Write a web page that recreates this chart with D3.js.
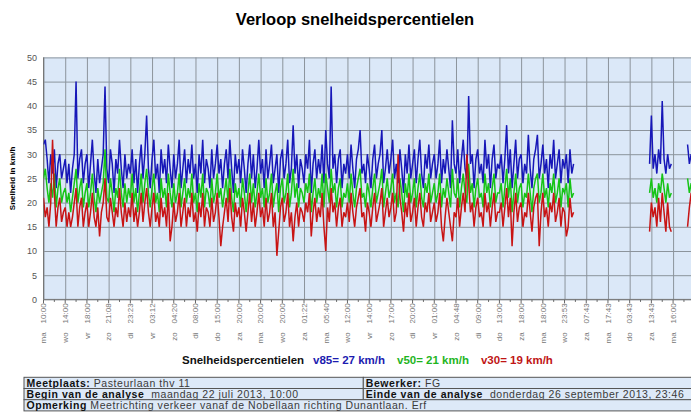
<!DOCTYPE html>
<html>
<head>
<meta charset="utf-8">
<script src="https://cdn.jsdelivr.net/npm/d3@7"></script>
<style>
  body { margin: 0; background: #fff; font-family: 'Liberation Sans', Arial, sans-serif; }
  .grid line { stroke: #8c949c; stroke-width: 1; }
  .grid path { display: none; }
  .yAxis text { fill: #555; font-size: 9px; }
  .tickText { fill: #777; font-size: 8px; }
  .seriesLine { fill: none; stroke-width: 1.5; stroke-linejoin: miter; }
  .tableCell { fill: #dde9f8; stroke: #555; stroke-width: 1; }
  .tableText { font-size: 10.5px; letter-spacing: 0.55px; fill: #3a3a3a; }
</style>
</head>
<body>
<div id="chartContainer"></div>
<script>
// x tick labels, one per grid line (every 12 samples)
const tickLabels = ['ma 10:00', 'wo 14:00', 'vr 18:00', 'zo 21:08', 'di 23:23', 'vr 03:12', 'zo 04:20',
  'di 08:00', 'do 15:00', 'za 20:00', 'ma 20:00', 'wo 20:00', 'za 01:22', 'ma 05:40', 'wo 12:00',
  'vr 14:00', 'zo 17:00', 'di 20:00', 'vr 01:00', 'zo 04:48', 'di 09:00', 'do 13:00', 'za 18:00',
  'ma 18:00', 'wo 23:53', 'za 07:43', 'ma 17:43', 'do 03:43', 'za 13:43', 'ma 16:00'];
const samplesPerTick = 12;
const tickIntervals = 30;
const yTicks = [0, 5, 10, 15, 20, 25, 30, 35, 40, 45, 50];

// measured blocks (sample index where each block starts)
const segmentStarts = [0, 335, 356];

const v85 = [
  [32,33,29,24,30,26,31,23,28,30,25,27, 29,24,28,22,27,30,45,25,29,31,24,28,
   30,23,28,33,26,22,29,24,27,30,44,27, 24,31,28,22,29,26,33,27,23,30,25,28,
   26,31,24,29,22,28,32,25,30,38,27,23, 29,33,25,28,22,31,26,29,24,32,27,23,
   30,25,28,33,23,27,31,24,29,26,32,25, 28,22,30,26,33,24,29,27,23,31,25,28,
   32,26,29,23,28,31,25,33,27,22,30,26, 29,24,31,27,22,28,32,25,30,23,27,33,
   26,29,23,31,25,28,32,24,27,30,22,29, 31,25,28,33,24,27,36,26,30,23,29,27,
   24,30,27,33,22,28,31,25,29,26,32,24, 35,28,25,44,27,30,24,29,31,23,28,26,
   30,25,32,27,23,29,31,35,26,28,24,30, 27,23,29,32,25,28,30,35,24,27,31,26,
   29,33,25,28,24,31,27,22,30,26,32,25, 28,31,24,29,33,26,23,30,27,32,25,28,
   30,25,28,33,24,29,26,31,27,23,37,28, 26,31,24,29,33,27,25,42,28,30,23,29,
   31,26,28,24,33,27,30,23,29,32,25,28, 27,30,24,29,36,26,31,23,28,33,25,29,
   30,24,28,26,34,27,23,29,31,34,25,28, 32,26,29,23,30,27,33,25,28,31,24,29,
   27,30,24,31,26,28],
  [28,38,27,30,26,31,28,41,29,26,30,27,28],
  [32,28,30,27,29]
];
const v50 = [
  [25,27,23,20,24,21,26,19,23,25,20,22, 23,20,22,18,21,24,27,20,23,25,19,22,
   24,19,22,26,21,18,23,20,22,24,31,21, 20,25,22,18,23,21,27,22,19,24,20,23,
   21,26,20,23,18,22,26,20,24,27,22,19, 23,26,20,22,18,25,21,23,19,26,22,19,
   24,20,22,26,19,22,25,20,23,21,26,20, 22,18,24,21,26,19,23,22,19,25,20,22,
   26,21,23,19,22,25,20,27,21,18,24,21, 23,19,25,22,18,22,26,20,24,19,22,26,
   21,23,19,25,20,22,26,19,22,24,18,23, 25,20,22,26,19,22,27,21,24,19,23,22,
   20,24,22,26,18,22,25,20,23,21,26,19, 26,23,20,27,22,24,19,23,25,19,22,21,
   24,20,26,22,19,23,25,27,21,22,19,24, 22,19,23,26,20,22,24,27,19,22,25,21,
   23,26,20,22,19,25,22,18,24,21,26,20, 22,25,19,23,26,21,19,24,22,26,20,22,
   24,20,22,26,19,23,21,25,22,19,27,22, 21,25,19,23,26,22,20,28,22,24,19,23,
   25,21,22,19,26,22,24,19,23,26,20,22, 22,24,19,23,27,21,25,18,22,26,20,23,
   24,19,22,21,26,22,18,23,25,26,20,22, 26,21,23,19,24,22,26,20,22,25,19,23,
   22,24,19,25,21,22],
  [22,25,21,23,20,24,22,26,23,20,24,21,22],
  [25,22,24,21,23]
];
const v30 = [
  [21,17,19,15,20,33,22,15,19,21,16,18, 19,15,18,15,17,20,23,15,19,21,15,18,
   20,15,18,22,17,15,19,13,18,20,25,17, 16,21,18,15,19,17,23,18,15,20,16,19,
   17,22,16,19,15,18,22,16,20,23,18,15, 19,22,16,18,15,21,17,19,15,22,12,15,
   20,16,18,22,15,18,21,15,19,17,22,16, 18,14,20,17,22,15,19,18,15,21,16,18,
   22,17,11,15,18,21,16,23,17,14,20,17, 19,15,21,18,14,18,22,16,20,15,18,22,
   17,19,15,21,16,18,22,15,18,9,14,19, 21,16,18,22,15,18,12,17,20,15,19,18,
   16,20,18,22,13,18,21,16,19,17,22,15, 10,19,16,23,18,20,15,19,21,15,18,17,
   20,16,22,18,15,19,21,23,17,18,14,20, 18,15,19,22,16,18,20,23,15,18,21,17,
   19,22,16,18,30,21,18,14,20,17,22,16, 18,21,15,19,22,17,15,20,18,22,16,18,
   20,16,18,22,15,12,17,21,18,15,12,18, 17,21,15,19,22,18,30,24,18,20,15,19,
   21,17,18,15,22,18,20,15,19,22,16,18, 18,20,15,19,23,17,21,11,18,22,16,19,
   20,15,18,17,22,18,14,19,21,22,11,18, 22,17,19,15,20,18,22,16,18,21,15,19,
   18,13,15,21,17,18],
  [14,20,17,19,15,21,16,22,18,14,20,15,14],
  [15,19,22,17,20]
];

const seriesColors = ['#1717b8', '#16c416', '#c81414'];
const legendTitle = 'Snelheidspercentielen';
const legendLabels = ['v85= 27 km/h', 'v50= 21 km/h', 'v30= 19 km/h'];
const legendColors = ['#1c1cb0', '#1fb51f', '#c01515'];

const tableRows = [
  [['Meetplaats:', ' Pasteurlaan thv 11'], ['Bewerker:', ' FG']],
  [['Begin van de analyse', '  maandag 22 juli 2013, 10:00'], ['Einde van de analyse', '  donderdag 26 september 2013, 23:46']],
  [['Opmerking', ' Meetrichting verkeer vanaf de Nobellaan richting Dunantlaan. Erf']]
];

function renderChart () {
  const width = 691;
  const height = 418;
  const plotLeft = 43.5;
  const tickStep = 21.71;
  const plotRight = plotLeft + tickStep * tickIntervals;
  const plotTop = 57.4;
  const plotBottom = 299.4;

  const svg = d3.select('#chartContainer').append('svg')
    .attr('width', width)
    .attr('height', height);

  const x = d3.scaleLinear()
    .domain([0, samplesPerTick * tickIntervals])
    .range([plotLeft, plotRight]);
  const y = d3.scaleLinear()
    .domain([0, 50])
    .range([plotBottom, plotTop]);

  svg.append('text')
    .attr('x', 355)
    .attr('y', 25)
    .attr('text-anchor', 'middle')
    .style('font-size', '16.5px')
    .style('font-weight', 'bold')
    .text('Verloop snelheidspercentielen');

  svg.append('rect')
    .attr('x', plotLeft)
    .attr('y', plotTop)
    .attr('width', plotRight - plotLeft)
    .attr('height', plotBottom - plotTop)
    .attr('fill', '#dbe8f8');

  // grid lines
  const gridTicks = d3.range(0, samplesPerTick * (tickIntervals + 1), samplesPerTick);
  svg.append('g')
    .attr('class', 'grid')
    .attr('transform', `translate(0,${plotBottom})`)
    .call(d3.axisBottom(x)
      .tickValues(gridTicks)
      .tickSize(-(plotBottom - plotTop))
      .tickFormat(''));
  svg.append('g')
    .attr('class', 'grid yAxis')
    .attr('transform', `translate(${plotLeft},0)`)
    .call(d3.axisLeft(y)
      .tickValues(yTicks)
      .tickSize(-(plotRight - plotLeft))
      .tickPadding(6.5));

  // small ticks under the axis
  svg.append('g')
    .selectAll('line')
    .data(d3.range(0, samplesPerTick * tickIntervals, samplesPerTick / 2))
    .join('line')
    .attr('x1', d => x(d))
    .attr('x2', d => x(d))
    .attr('y1', plotBottom)
    .attr('y2', d => plotBottom + (d % samplesPerTick === 0 ? 4 : 2.5))
    .attr('stroke', '#666');

  svg.append('line')
    .attr('x1', plotLeft).attr('x2', plotRight)
    .attr('y1', plotBottom).attr('y2', plotBottom)
    .attr('stroke', '#777');
  svg.append('line')
    .attr('x1', plotLeft).attr('x2', plotLeft)
    .attr('y1', plotTop).attr('y2', plotBottom)
    .attr('stroke', '#777');

  // rotated tick labels: time close to the axis, weekday below it
  const labelGroups = svg.append('g')
    .selectAll('g')
    .data(tickLabels)
    .join('g')
    .attr('transform', (d, i) => `translate(${x(i * samplesPerTick)},0)`);
  labelGroups.append('text')
    .attr('class', 'tickText')
    .attr('transform', `translate(0,${plotBottom + 4}) rotate(-90)`)
    .attr('dy', '0.35em')
    .attr('text-anchor', 'end')
    .text(d => d.split(' ')[1]);
  labelGroups.append('text')
    .attr('class', 'tickText')
    .attr('transform', `translate(0,${plotBottom + 33}) rotate(-90)`)
    .attr('dy', '0.35em')
    .attr('text-anchor', 'end')
    .text(d => d.split(' ')[0]);

  svg.append('text')
    .attr('transform', `translate(15,${(plotTop + plotBottom) / 2}) rotate(-90)`)
    .attr('text-anchor', 'middle')
    .style('font-size', '8px')
    .style('font-weight', 'bold')
    .text('Snelheid in km/h');

  // series lines
  svg.append('clipPath')
    .attr('id', 'plotClip')
    .append('rect')
    .attr('x', plotLeft)
    .attr('y', plotTop - 2)
    .attr('width', plotRight - plotLeft)
    .attr('height', plotBottom - plotTop + 2);

  const line = d3.line()
    .x(d => x(d.i))
    .y(d => y(d.v));

  const lineGroup = svg.append('g').attr('clip-path', 'url(#plotClip)');
  [v85, v50, v30].forEach((series, s) => {
    const segments = series.map((values, k) => values.map((v, j) => ({ i: segmentStarts[k] + j, v })));
    lineGroup.selectAll(`.series${s}`)
      .data(segments)
      .join('path')
      .attr('class', `seriesLine series${s}`)
      .attr('stroke', seriesColors[s])
      .attr('d', line);
  });

  // legend
  const legend = svg.append('g')
    .attr('transform', 'translate(182,364)')
    .style('font-size', '11.5px')
    .style('font-weight', 'bold');
  let cursor = 0;
  [legendTitle, ...legendLabels].forEach((label, i) => {
    const t = legend.append('text')
      .attr('x', cursor)
      .attr('fill', i === 0 ? '#111' : legendColors[i - 1])
      .text(label);
    cursor += t.node().getComputedTextLength() + (i === 0 ? 9 : 12);
  });

  // info table
  const tableLeft = 24;
  const tableRight = 720;
  const splitX = 363.3;
  const rowTop = 377.3;
  const rowHeight = 11.2;
  tableRows.forEach((row, r) => {
    row.forEach((cell, c) => {
      const cx = c === 0 ? tableLeft : splitX;
      const cw = row.length === 1 ? tableRight - tableLeft : (c === 0 ? splitX - tableLeft : tableRight - splitX);
      svg.append('rect')
        .attr('class', 'tableCell')
        .attr('x', cx)
        .attr('y', rowTop + r * rowHeight)
        .attr('width', cw)
        .attr('height', rowHeight);
      const t = svg.append('text')
        .attr('class', 'tableText')
        .attr('x', cx + 2.5)
        .attr('y', rowTop + r * rowHeight + 9.2)
        .attr('xml:space', 'preserve');
      t.append('tspan')
        .style('font-weight', 'bold')
        .attr('fill', '#111')
        .text(cell[0]);
      t.append('tspan')
        .text(cell[1]);
    });
  });
}
renderChart();
</script>
</body>
</html>
